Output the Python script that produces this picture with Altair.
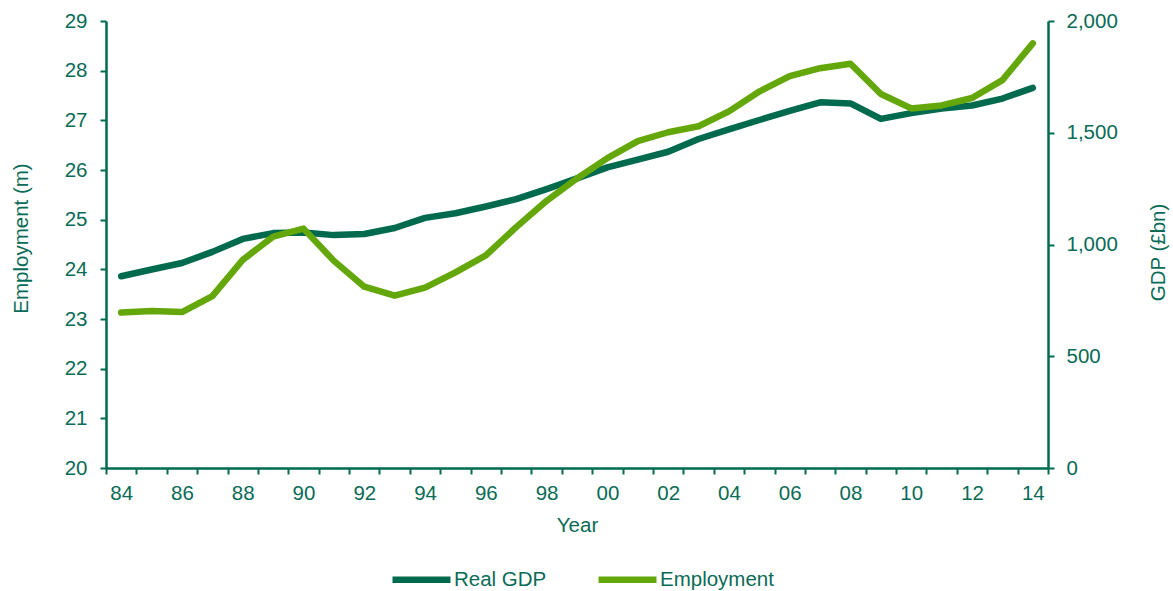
import altair as alt
import pandas as pd

years = list(range(1984, 2015))
employment = [23.13, 23.16, 23.14, 23.46, 24.19, 24.66, 24.82, 24.17, 23.65, 23.47,
              23.63, 23.94, 24.28, 24.85, 25.38, 25.83, 26.24, 26.58, 26.76, 26.88,
              27.18, 27.58, 27.89, 28.05, 28.14, 27.53, 27.24, 27.30, 27.45, 27.81,
              28.55]
gdp = [858, 888, 917, 967, 1025, 1051, 1054, 1042, 1047, 1074,
       1119, 1140, 1170, 1203, 1248, 1296, 1345, 1380, 1415, 1472,
       1515, 1557, 1598, 1636, 1631, 1562, 1588, 1608, 1622, 1653,
       1701]
series_names = ["Real GDP", "Employment"]
series_colors = ["#006A4E", "#64A70B"]

df = pd.DataFrame({"year": years, "employment": employment, "gdp": gdp})

TEXT = "#0A6B57"
LINE = "#006A4E"
FONT = "Liberation Sans"
FS = 20.5

x_enc = alt.X(
    "year:O",
    bandPosition=0.5,
    scale=alt.Scale(type="band", paddingInner=0, paddingOuter=0),
    axis=alt.Axis(
        title="Year",
        labelExpr="datum.value % 2 == 0 ? substring(toString(datum.value), 2, 4) : ''",
        labelAngle=0,
        labelOverlap=False,
        tickBand="extent",
        labelPadding=9,
        titleY=47,
    ),
)

color_scale = alt.Scale(domain=series_names, range=series_colors)
legend = alt.Legend(
    title=None,
    orient="none",
    direction="horizontal",
    legendX=283,
    legendY=526,
    symbolType="stroke",
    symbolSize=3364,
    symbolStrokeWidth=6.5,
    labelFont=FONT,
    labelFontSize=FS,
    labelColor=TEXT,
    labelOffset=0,
    columnPadding=38,
)

gdp_line = alt.Chart(df).transform_calculate(series="'Real GDP'").mark_line(
    strokeWidth=6.5, strokeCap="round", strokeJoin="round"
).encode(
    x=x_enc,
    y=alt.Y(
        "gdp:Q",
        scale=alt.Scale(domain=[0, 2000], nice=False),
        axis=alt.Axis(
            orient="right",
            title="GDP (£bn)",
            values=[0, 500, 1000, 1500, 2000],
            format=",.0f",
            labelPadding=12,
            titleAngle=270,
            titleX=116,
            titleY=231,
            titleBaseline="alphabetic",
        ),
    ),
    color=alt.Color("series:N", scale=color_scale, legend=legend),
)

emp_line = alt.Chart(df).transform_calculate(series="'Employment'").mark_line(
    strokeWidth=6.5, strokeCap="round", strokeJoin="round"
).encode(
    x=x_enc,
    y=alt.Y(
        "employment:Q",
        scale=alt.Scale(domain=[20, 29], nice=False, zero=False),
        axis=alt.Axis(
            orient="left",
            title="Employment (m)",
            values=list(range(20, 30)),
            labelPadding=13,
            titleAngle=270,
            titleX=-79,
            titleY=217,
            titleBaseline="alphabetic",
        ),
    ),
    color=alt.Color("series:N", scale=color_scale, legend=legend),
)

chart = (
    alt.layer(gdp_line, emp_line)
    .resolve_scale(y="independent")
    .properties(
        width=942,
        height=447,
        autosize=alt.AutoSizeParams(type="none"),
        padding={"left": 106, "top": 21, "right": 125, "bottom": 123},
        background="white",
    )
    .configure_view(stroke=None)
    .configure_axis(
        labelFont=FONT,
        labelFontSize=FS,
        labelColor=TEXT,
        titleFont=FONT,
        titleFontSize=FS,
        titleFontWeight="normal",
        titleColor=TEXT,
        domainColor=LINE,
        domainWidth=2.5,
        tickColor=LINE,
        tickWidth=2,
        tickSize=6,
        grid=False,
    )
)

chart.save("out.html", embed_options={"renderer": "svg", "actions": False})
